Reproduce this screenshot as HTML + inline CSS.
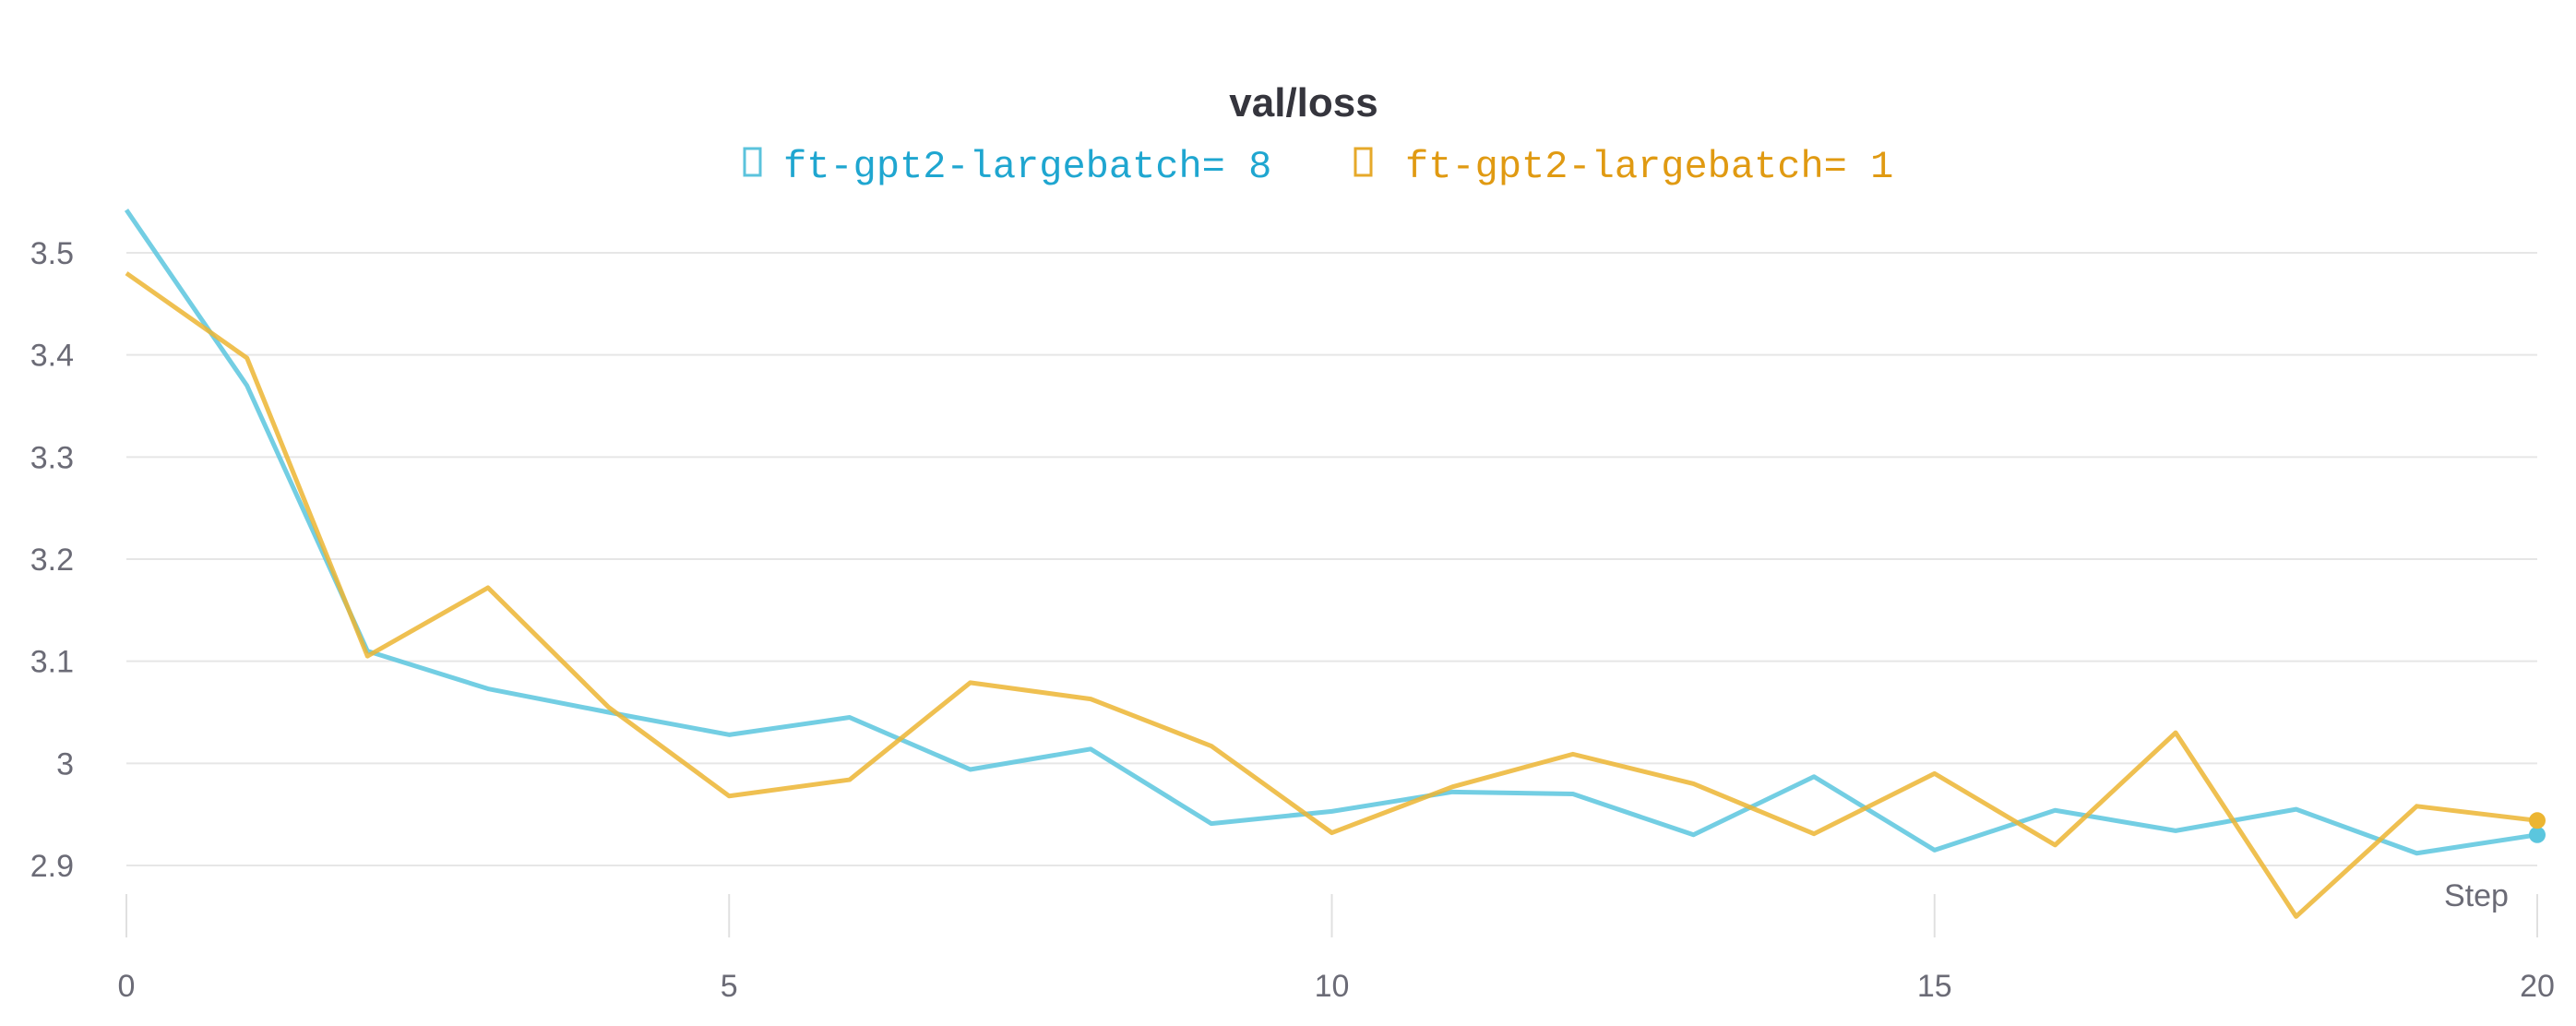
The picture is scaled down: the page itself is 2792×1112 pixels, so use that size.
<!DOCTYPE html>
<html><head><meta charset="utf-8"><style>
html,body{margin:0;padding:0;background:#fff;}
svg{display:block;}
</style></head><body>
<svg id="chart" width="2792" height="1112" viewBox="0 0 2792 1112" xmlns="http://www.w3.org/2000/svg">
<text x="1413" y="126" text-anchor="middle" font-family="Liberation Sans, sans-serif" font-weight="bold" font-size="44" fill="#35353d">val/loss</text>
<g>
<g>
<rect x="807" y="161" width="17" height="29" fill="none" stroke="#5bc3dc" stroke-width="3"/>
<text x="849" y="192" font-family="Liberation Mono, monospace" font-size="42" fill="#1fa6d0">ft-gpt2-largebatch= 8</text></g>
<g>
<rect x="1469" y="161" width="17" height="29" fill="none" stroke="#e6a92a" stroke-width="3"/>
<text x="1523" y="192" font-family="Liberation Mono, monospace" font-size="42" fill="#e09a12">ft-gpt2-largebatch= 1</text></g>
</g>
<g id="grid"></g><g id="axes"></g><g id="series"></g>
</svg>
<script>
const steps=[0,1,2,3,4,5,6,7,8,9,10,11,12,13,14,15,16,17,18,19,20];
const batch8=[3.542,3.37,3.11,3.073,3.05,3.028,3.045,2.994,3.014,2.941,2.953,2.972,2.97,2.93,2.987,2.915,2.954,2.934,2.955,2.912,2.93];
const batch1=[3.48,3.397,3.105,3.172,3.055,2.968,2.984,3.079,3.063,3.017,2.932,2.977,3.009,2.98,2.931,2.99,2.92,3.03,2.85,2.958,2.944];
const yTicks=[2.9,3.0,3.1,3.2,3.3,3.4,3.5];
const yTickLabels=["2.9","3","3.1","3.2","3.3","3.4","3.5"];
const xTicks=[0,5,10,15,20];
const NS="http://www.w3.org/2000/svg";
const X0=137,X1=2750,Y35=274,Y29=938;
function xs(v){return X0+(v-0)/(20-0)*(X1-X0);}
function ys(v){return Y29-(v-2.9)/(3.5-2.9)*(Y29-Y35);}
function mk(t,a,p){const e=document.createElementNS(NS,t);for(const k in a)e.setAttribute(k,a[k]);p.appendChild(e);return e;}
const grid=document.getElementById('grid'),axes=document.getElementById('axes'),ser=document.getElementById('series');
yTicks.forEach((v,i)=>{
const l=mk('line',{x1:X0,x2:X1,y1:ys(v),y2:ys(v),stroke:'#e6e6e6','stroke-width':2},grid);


const t=mk('text',{x:80,y:ys(v)+12,'text-anchor':'end','font-family':'Liberation Sans, sans-serif','font-size':34,fill:'#6b6b76'},axes);
t.textContent=yTickLabels[i];


});
xTicks.forEach(v=>{
const l=mk('line',{x1:xs(v),x2:xs(v),y1:969,y2:1016,stroke:'#e0e0e0','stroke-width':2},grid);


const t=mk('text',{x:xs(v),y:1080,'text-anchor':'middle','font-family':'Liberation Sans, sans-serif','font-size':34,fill:'#6b6b76'},axes);
t.textContent=String(v);


});
const st=mk('text',{x:2684,y:982,'text-anchor':'middle','font-family':'Liberation Sans, sans-serif','font-size':34,fill:'#6b6b76'},axes);
st.textContent='Step';


function draw(vals,color,name){
const p=mk('polyline',{points:vals.map((v,i)=>xs(steps[i])+','+ys(v)).join(' '),fill:'none',stroke:color,'stroke-width':5,'stroke-linejoin':'round','stroke-opacity':0.85},ser);


const n=vals.length-1;
const c=mk('circle',{cx:xs(steps[n]),cy:ys(vals[n]),r:9,fill:color},ser);


}
draw(batch8,'#5bc6de','batch-8');
draw(batch1,'#ecb532','batch-1');
</script>
</body></html>
